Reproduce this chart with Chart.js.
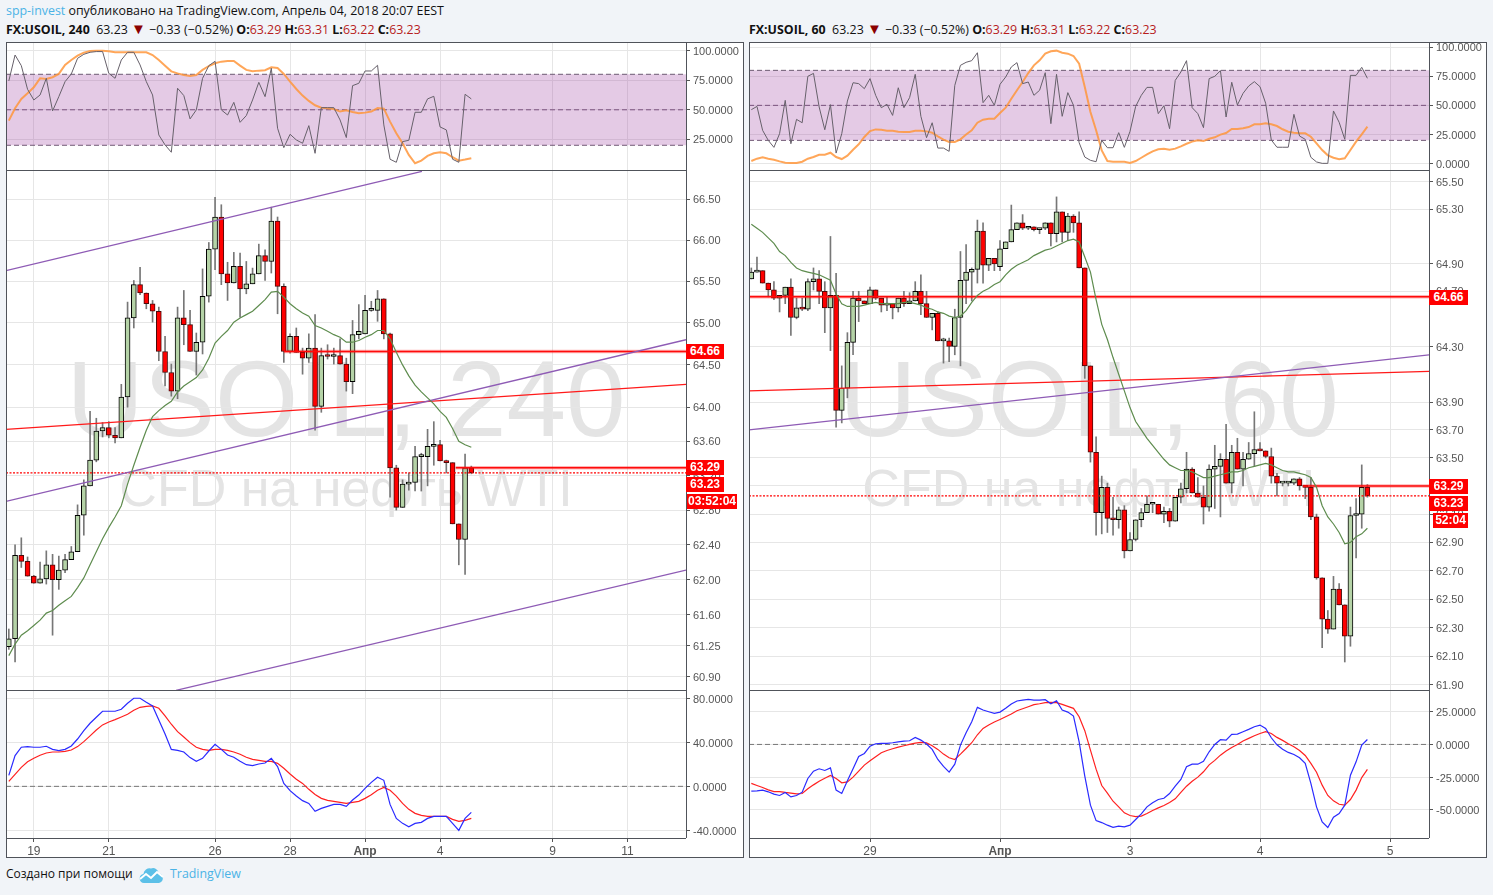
<!DOCTYPE html>
<html>
<head>
<meta charset="utf-8">
<script src="https://cdn.jsdelivr.net/npm/chart.js@4"></script>
<style>
html, body { margin: 0; padding: 0; background: #f1f4f8; width: 1493px; height: 895px; overflow: hidden; }
body { position: relative; font-family: "Open Sans", sans-serif; color: #111; }
.box { position: absolute; background: #fff; }
.frame { position: absolute; background: #50535a; }
canvas { position: absolute; }
.mark { position: absolute; font-family: "Liberation Sans", sans-serif; color: #e4e4e4; white-space: nowrap; text-align: center; }
.big { font-size: 107px; line-height: 107px; }
.small { font-size: 52px; line-height: 52px; }
.flag { position: absolute; background: #ff0000; color: #fff; font: bold 12px/15px "Liberation Sans", sans-serif; height: 15px; text-align: center; }
.line { position: absolute; font-size: 12.4px; line-height: 18px; white-space: nowrap; }
.line b { font-weight: 700; }
.down { color: #b71c1c; }
.blue { color: #4bb3e6; }
.tri { color: #8b0000; font-size: 15px; line-height: 0; }
</style>
</head>
<body>
<div class="line" style="left:6px;top:2px"><span class="blue">spp-invest</span> опубликовано на TradingView.com, Апрель 04, 2018 20:07 EEST</div>
<div class="line" style="left:6px;top:21px"><b>FX:USOIL, 240</b>&nbsp; 63.23 <span class="tri">▼</span> −0.33 (−0.52%) <b>O:</b><span class="down">63.29</span> <b>H:</b><span class="down">63.31</span> <b>L:</b><span class="down">63.22</span> <b>C:</b><span class="down">63.23</span></div>
<div class="line" style="left:749px;top:21px"><b>FX:USOIL, 60</b>&nbsp; 63.23 <span class="tri">▼</span> −0.33 (−0.52%) <b>O:</b><span class="down">63.29</span> <b>H:</b><span class="down">63.31</span> <b>L:</b><span class="down">63.22</span> <b>C:</b><span class="down">63.23</span></div>

<div class="box" style="left:6px;top:42px;width:738px;height:816px"></div>
<div class="box" style="left:749px;top:42px;width:738px;height:816px"></div>

<div class="mark big" style="left:6px;top:346px;width:680px">USOIL, 240</div>
<div class="mark small" style="left:6px;top:462px;width:680px">CFD на нефть WTI</div>
<div class="mark big" style="left:749px;top:346px;width:680px">USOIL, 60</div>
<div class="mark small" style="left:749px;top:462px;width:680px">CFD на нефть WTI</div>

<canvas id="lRsiPane" width="738" height="128" style="left:6px;top:42px"></canvas>
<canvas id="lMain" width="738" height="520" style="left:6px;top:170px"></canvas>
<canvas id="lStoch" width="738" height="168" style="left:6px;top:690px"></canvas>
<canvas id="rRsiPane" width="738" height="128" style="left:749px;top:42px"></canvas>
<canvas id="rMain" width="738" height="520" style="left:749px;top:170px"></canvas>
<canvas id="rStoch" width="738" height="168" style="left:749px;top:690px"></canvas>

<div class="frame" style="left:6px;top:42px;width:738px;height:1px"></div>
<div class="frame" style="left:6px;top:170px;width:680px;height:1px"></div>
<div class="frame" style="left:6px;top:690px;width:680px;height:1px"></div>
<div class="frame" style="left:6px;top:838px;width:680px;height:1px"></div>
<div class="frame" style="left:6px;top:857px;width:738px;height:1px"></div>
<div class="frame" style="left:6px;top:42px;width:1px;height:816px"></div>
<div class="frame" style="left:686px;top:42px;width:1px;height:796px"></div>
<div class="frame" style="left:743px;top:42px;width:1px;height:816px"></div>
<div class="frame" style="left:749px;top:42px;width:738px;height:1px"></div>
<div class="frame" style="left:749px;top:170px;width:680px;height:1px"></div>
<div class="frame" style="left:749px;top:690px;width:680px;height:1px"></div>
<div class="frame" style="left:749px;top:838px;width:680px;height:1px"></div>
<div class="frame" style="left:749px;top:857px;width:738px;height:1px"></div>
<div class="frame" style="left:749px;top:42px;width:1px;height:816px"></div>
<div class="frame" style="left:1429px;top:42px;width:1px;height:796px"></div>
<div class="frame" style="left:1486px;top:42px;width:1px;height:816px"></div>

<div class="flag" style="left:686px;top:344px;width:38px">64.66</div>
<div class="flag" style="left:686px;top:460px;width:38px">63.29</div>
<div class="flag" style="left:686px;top:477px;width:38px">63.23</div>
<div class="flag" style="left:687px;top:494px;width:50px">03:52:04</div>
<div class="flag" style="left:1429px;top:290px;width:39px">64.66</div>
<div class="flag" style="left:1429px;top:479px;width:39px">63.29</div>
<div class="flag" style="left:1429px;top:496px;width:39px">63.23</div>
<div class="flag" style="left:1433px;top:513px;width:35px">52:04</div>

<div class="line" style="left:6px;top:865px;font-size:12px">Создано при помощи</div>
<svg style="position:absolute;left:139px;top:866px" width="25" height="18" viewBox="0 0 25 18">
<path d="M5 17a4.6 4.6 0 0 1-.6-9.1A6.3 6.3 0 0 1 12 2.4a5.6 5.6 0 0 1 7.6 4.8A5 5 0 0 1 20 17z" fill="#5cc0e8"/>
<path d="M1 13l6-5 5 4 6-6 6 5" fill="none" stroke="#fff" stroke-width="2"/>
</svg>
<div class="line blue" style="left:170px;top:865px">TradingView</div>

<script>
// 240 minute candles
const lOpen = [61.24,61.33,62.28,62.21,62.04,61.96,62.01,62.17,62.00,62.11,62.23,62.32,62.74,63.08,63.38,63.72,63.76,63.67,63.64,64.12,65.06,65.46,65.36,65.23,65.14,64.66,64.41,64.19,65.06,64.98,64.66,64.77,65.32,65.89,66.28,65.59,65.48,65.68,65.41,65.47,65.59,65.81,65.74,66.23,65.44,64.66,64.84,64.65,64.58,64.70,64.01,64.61,64.60,64.61,64.51,64.30,64.86,64.87,65.15,65.15,65.29,64.87,63.29,62.83,63.10,63.12,63.42,63.42,63.54,63.56,63.37,63.35,62.64,62.46,63.29]
const lHigh = [61.44,62.40,62.48,62.26,62.05,62.20,62.33,62.29,62.27,62.29,62.38,62.86,63.15,63.95,63.87,63.82,63.83,63.76,64.27,65.25,65.51,65.67,65.36,65.27,65.19,64.84,64.51,65.19,65.39,65.15,64.88,65.65,65.97,66.52,66.43,65.73,65.85,65.84,65.74,65.66,65.95,65.88,66.40,66.28,65.47,64.87,64.94,64.70,64.87,65.10,64.70,64.74,64.70,64.81,64.58,65.03,65.22,65.33,65.26,65.39,65.29,64.88,63.32,63.15,63.23,63.54,63.46,63.74,63.83,63.61,63.38,63.35,62.64,63.45,63.31]
const lLow = [61.21,61.07,62.14,62.04,61.96,61.96,61.95,61.37,61.89,62.08,62.23,62.32,62.51,63.08,63.36,63.65,63.64,63.58,63.64,64.00,64.94,65.34,65.17,65.01,64.55,64.25,64.13,64.10,64.74,64.66,64.38,64.63,65.25,65.64,65.46,65.27,65.48,65.07,65.35,65.47,65.59,65.51,65.60,65.11,64.53,64.64,64.65,64.39,64.53,63.73,63.94,64.57,64.51,64.51,64.19,64.16,64.81,64.87,65.14,65.02,64.81,62.95,62.80,62.83,63.03,63.02,63.02,63.08,63.32,63.37,63.23,62.64,62.17,62.06,63.22]
const lClose = [61.33,62.28,62.21,62.04,61.96,62.01,62.17,62.00,62.11,62.23,62.32,62.74,63.08,63.38,63.72,63.76,63.67,63.64,64.12,65.06,65.46,65.36,65.23,65.14,64.66,64.41,64.19,65.06,64.98,64.66,64.77,65.32,65.89,66.28,65.59,65.48,65.68,65.41,65.47,65.59,65.81,65.74,66.23,65.44,64.66,64.84,64.65,64.58,64.70,64.01,64.61,64.60,64.61,64.51,64.30,64.86,64.90,65.15,65.15,65.29,64.87,63.29,62.83,63.10,63.12,63.42,63.42,63.54,63.56,63.37,63.35,62.64,62.46,63.29,63.23]
const lMa = [61.14,61.27,61.37,61.42,61.48,61.54,61.62,61.65,61.71,61.76,61.81,61.91,62.02,62.17,62.32,62.47,62.60,62.72,62.85,63.10,63.32,63.53,63.73,63.89,63.96,64.02,64.07,64.18,64.25,64.30,64.35,64.44,64.58,64.76,64.84,64.91,65.01,65.06,65.10,65.14,65.21,65.28,65.37,65.38,65.31,65.23,65.17,65.12,65.08,64.97,64.94,64.90,64.86,64.83,64.77,64.77,64.79,64.83,64.86,64.91,64.91,64.81,64.65,64.50,64.37,64.26,64.18,64.11,64.04,63.95,63.88,63.75,63.60,63.56,63.53]
const lRsi = [74.4,96.3,87.3,67.3,58.3,62.5,76.6,49.0,61.1,73.8,80.3,93.5,96.9,98.6,99.2,99.2,80.8,76.6,92.1,98.6,98.6,87.9,73.8,62.5,28.7,20.3,14.1,68.2,62.0,42.3,49.9,76.6,87.3,91.0,49.9,45.6,56.3,39.4,45.1,58.3,73.2,61.1,85.1,34.4,18.0,29.3,24.5,21.7,36.6,13.2,51.8,51.8,51.8,41.4,26.5,70.4,72.4,82.8,82.8,87.6,37.2,8.2,5.6,23.1,24.2,47.9,47.9,59.2,61.4,35.5,33.0,8.2,5.6,63.1,59.2]
const lRsiMa = [40.8,51.3,59.2,63.9,69.0,76.6,76.1,77.5,80.3,87.9,92.1,95.8,98.3,99.7,100,100,99.4,98.6,98.6,98.6,98.6,98.6,98.6,96.3,92.1,87.3,82.5,80.8,79.4,78.6,79.4,83.7,87.0,89.3,90.7,91.3,91.3,87.3,83.7,82.5,83.1,83.4,85.9,85.4,80.3,73.8,67.6,62.0,57.5,53.8,51.8,51.3,50.7,48.5,49.6,48.2,47.0,47.6,48.5,51.5,51.0,40.0,30.1,21.7,11.8,4.8,7.0,11.0,13.2,14.1,13.2,9.9,7.0,7.9,9.0]
const lFast = [10.0,27.9,35.5,36.1,35.5,35.5,36.4,33.6,32.4,33.6,36.7,43.0,50.6,57.3,62.7,68.2,68.2,68.2,70.0,75.5,80,80,76.4,73.0,60.3,47.6,33.6,32.7,31.2,26.1,22.7,25.5,32.1,38.2,33.6,28.5,26.4,22.7,19.7,18.8,20.3,21.2,25.5,17.9,2.7,-3.9,-8.8,-13.0,-15.5,-22.7,-20.0,-18.2,-16.4,-16.4,-18.2,-12.4,-7.9,-1.8,3.6,8.2,5.5,-16.4,-29.1,-33.6,-36.7,-33.6,-32.7,-29.1,-27.3,-27.3,-27.3,-33.6,-40.0,-29.1,-23.6]
const lSlow = [4.5,10.9,17.3,22.4,25.5,28.2,30.3,31.2,31.2,31.8,33.0,36.1,40.6,45.8,51.2,55.8,58.5,60.6,63.0,65.5,69.1,71.8,72.7,73.0,70.9,63.9,56.4,49.7,44.8,39.7,35.5,33.6,32.7,33.6,33.6,32.7,31.2,29.1,26.4,24.5,23.6,22.7,22.7,20.9,16.4,11.2,6.4,2.7,-2.7,-7.3,-10.9,-12.7,-13.6,-14.5,-15.5,-14.5,-13.6,-10.9,-7.6,-3.6,-0.9,-3.6,-8.8,-15.5,-20.9,-24.5,-26.4,-27.3,-27.3,-27.3,-27.3,-30.0,-31.8,-30.9,-29.1]

// 60 minute candles
const rOpen = [64.79,64.84,64.85,64.76,64.71,64.65,64.67,64.73,64.51,64.58,64.57,64.77,64.79,64.70,64.58,64.67,63.84,64.00,64.33,64.65,64.63,64.61,64.71,64.65,64.60,64.61,64.58,64.65,64.61,64.63,64.70,64.61,64.51,64.54,64.34,64.34,64.30,64.51,64.78,64.84,64.86,65.14,64.89,64.94,64.88,65.01,65.06,65.15,65.20,65.16,65.17,65.15,65.16,65.20,65.12,65.28,65.13,65.25,65.20,64.87,64.16,63.54,63.11,63.29,63.07,63.06,63.13,62.84,62.92,63.06,63.11,63.17,63.17,63.10,63.12,63.05,63.22,63.28,63.42,63.25,63.22,63.15,63.42,63.44,63.49,63.32,63.54,63.42,63.49,63.53,63.56,63.55,63.51,63.37,63.32,63.32,63.32,63.35,63.30,63.29,63.08,62.65,62.36,62.29,62.57,62.46,62.24,63.09,63.10,63.29]
const rHigh = [64.87,64.95,64.85,64.76,64.77,64.67,64.73,64.79,64.65,64.65,64.79,64.87,64.85,64.77,65.10,64.83,64.16,64.40,64.70,64.70,64.63,64.73,64.71,64.65,64.66,64.61,64.65,64.70,64.69,64.77,64.82,64.70,64.54,64.55,64.36,64.36,64.57,64.99,65.04,64.87,65.22,65.20,64.94,64.94,65.07,65.06,65.33,65.20,65.26,65.17,65.17,65.16,65.20,65.20,65.39,65.28,65.27,65.26,65.28,64.87,64.16,63.65,63.37,63.32,63.22,63.15,63.16,62.97,63.06,63.14,63.23,63.17,63.17,63.15,63.14,63.22,63.32,63.54,63.43,63.36,63.30,63.45,63.59,63.53,63.74,63.59,63.64,63.54,63.61,63.83,63.61,63.55,63.57,63.39,63.32,63.33,63.35,63.36,63.30,63.36,63.10,62.65,62.42,62.66,62.61,62.46,63.15,63.21,63.45,63.31]
const rLow = [64.79,64.84,64.76,64.66,64.64,64.55,64.61,64.38,64.50,64.56,64.56,64.71,64.61,64.40,64.27,63.72,63.75,63.93,64.24,64.48,64.61,64.61,64.64,64.55,64.56,64.50,64.55,64.59,64.61,64.63,64.53,64.51,64.42,64.34,64.18,64.19,64.24,64.16,64.61,64.63,64.76,64.76,64.85,64.85,64.85,65.01,65.06,65.15,65.15,65.15,65.14,65.12,65.15,65.03,65.06,65.06,65.07,65.13,64.87,64.07,63.47,62.95,62.96,62.97,62.95,63.00,62.79,62.84,62.91,63.01,63.11,63.11,63.10,63.04,63.01,63.05,63.18,63.25,63.25,63.22,63.03,63.12,63.14,63.08,63.32,63.25,63.42,63.30,63.49,63.44,63.55,63.50,63.32,63.23,63.30,63.30,63.31,63.27,63.21,63.06,62.64,62.16,62.26,62.29,62.46,62.06,62.17,62.79,63.00,63.22]
const rClose = [64.84,64.85,64.76,64.71,64.65,64.67,64.73,64.51,64.58,64.57,64.77,64.79,64.70,64.58,64.67,63.84,64.00,64.33,64.65,64.63,64.61,64.71,64.65,64.60,64.61,64.58,64.65,64.61,64.63,64.70,64.61,64.51,64.54,64.34,64.35,64.30,64.51,64.78,64.84,64.86,65.14,64.89,64.94,64.90,65.01,65.06,65.15,65.20,65.16,65.17,65.15,65.16,65.20,65.12,65.28,65.13,65.25,65.20,64.87,64.16,63.54,63.11,63.29,63.07,63.06,63.13,62.84,62.92,63.06,63.11,63.17,63.17,63.10,63.12,63.05,63.22,63.28,63.42,63.25,63.22,63.15,63.42,63.44,63.49,63.32,63.54,63.42,63.49,63.53,63.56,63.55,63.51,63.37,63.32,63.32,63.32,63.35,63.30,63.29,63.08,62.65,62.36,62.29,62.57,62.46,62.24,63.09,63.10,63.29,63.23]
const rMa = [65.19,65.16,65.13,65.09,65.05,64.99,64.96,64.91,64.87,64.85,64.84,64.83,64.82,64.80,64.78,64.68,64.61,64.59,64.59,64.59,64.60,64.61,64.62,64.61,64.61,64.61,64.61,64.62,64.62,64.61,64.60,64.58,64.57,64.55,64.54,64.52,64.51,64.52,64.56,64.62,64.67,64.70,64.72,64.75,64.77,64.82,64.86,64.89,64.91,64.93,64.96,64.98,65.00,65.01,65.03,65.05,65.07,65.08,65.06,64.95,64.84,64.64,64.46,64.35,64.22,64.10,63.98,63.86,63.76,63.70,63.64,63.59,63.54,63.49,63.45,63.43,63.41,63.41,63.40,63.38,63.36,63.36,63.37,63.38,63.39,63.40,63.40,63.41,63.43,63.44,63.45,63.46,63.45,63.43,63.41,63.40,63.40,63.39,63.38,63.36,63.29,63.16,63.08,63.03,62.97,62.89,62.90,62.94,62.96,63.00]
const rRsi = [46.3,49.1,28.6,20,14,25.7,54.3,17.1,38,35.1,74.9,77.4,48.6,29.1,50.6,9.1,25.7,53.7,69.4,68.6,64.3,72.9,58.6,48,50.9,41.4,65.1,48,56.6,76.6,40.6,22.3,35.1,13.4,13.4,10.6,67.1,84.3,86.9,88.3,95.1,52.3,58.6,50,68,74.3,82.9,86.6,68.6,70,58.6,62.9,78,34.3,76.6,40.6,60.9,50,18,5.7,2.9,1.7,20,13.7,13.7,26.6,14,27.7,49.1,58.6,65.4,65.4,42.9,49.7,30,71.4,78.6,88.3,48,42.9,30.9,72.9,74.9,79.7,40,69.8,50.3,60.3,66.6,70.3,66.0,51.8,20.3,14.1,14.1,14.1,42.3,23.7,20.9,5.5,1.5,0.3,0.3,45.2,35.5,20.9,75.7,75.7,82.6,73.2]
const rRsiMa = [2.3,4.3,5.4,4.3,3.4,2,0.9,0.6,0.6,1.7,4.3,5.7,7.7,7.7,9.4,5.7,4,6.9,12,16.6,22.9,28,29.4,29.1,28.3,28.3,27.4,27.1,27.1,28.3,28.3,27.7,26.6,23.4,20.6,18.6,18.6,20.9,25.1,28.6,35.1,37.7,38.6,38.6,43.4,48,55.7,62.9,70,77.7,84.3,88.6,94.3,96.3,96.9,95.1,94.3,92.3,85.7,65.7,44.3,28.6,11.4,2.3,1.7,1.7,1.7,0.6,2.3,5.1,8,10.6,12.3,12.9,12,12.9,14.9,17.1,18.9,20,19.4,21.4,22.6,24.9,26.3,29.7,29.7,30.3,31.4,33.8,33.8,34.6,33.8,32.3,29.5,27.4,26.6,26,26,23.1,17.5,11.7,7.2,5.1,3.8,4.6,11.7,18.9,25.2,31.7]
const rFast = [-35.7,-35.5,-34.9,-36.2,-38.0,-39.0,-36.7,-40.1,-39.0,-36.5,-26.0,-20.4,-18.6,-19.9,-17.9,-34.9,-37.5,-27.8,-18.6,-9.2,-6.9,-1.3,0.5,0.8,0.8,1.3,2.0,2.6,2.8,5.4,3.3,0.3,-3.8,-11.5,-16.8,-21.2,-15.1,-0.5,8.9,17.3,28.3,26.3,25.0,23.7,24.7,27.6,30.9,33.2,33.9,34.4,33.9,33.9,34.2,31.1,33.4,26.3,24.7,21.7,2.0,-24.2,-46.4,-58.2,-59.7,-61.7,-63.3,-62.5,-63.0,-61.7,-57.4,-53.1,-47.7,-44.6,-42.1,-41.1,-37.5,-31.9,-26.8,-17.1,-15.1,-15.1,-12.8,-5.6,0,3.6,3.3,7.7,7.9,9.7,11.5,13.5,14.8,12.2,5.1,-0.3,-3.6,-6.1,-7.7,-10.2,-14.5,-29.8,-47.7,-59.2,-63.5,-55.6,-52.8,-46.4,-23.5,-13.3,-0.5,3.8]
const rSlow = [-29.8,-31.4,-32.9,-34.7,-36.0,-36.0,-36.7,-37.2,-37.8,-37.5,-33.9,-30.9,-28.1,-25.8,-23.7,-26.0,-29.3,-28.6,-25.0,-20.4,-15.8,-12.5,-9.4,-6.4,-4.6,-3.3,-2.0,-1.0,0,1.0,1.5,1.3,-1.0,-3.8,-7.4,-10.2,-11.5,-7.4,-3.1,1.3,7.4,12.2,14.8,17.1,19.1,21.2,23.2,25.8,27.3,28.8,30.4,31.1,31.9,32.1,31.9,30.6,29.1,27.6,21.2,10.5,-4.3,-18.9,-31.4,-37.2,-43.4,-47.7,-52.3,-54.3,-55.1,-54.8,-52.8,-50.5,-48.5,-46.7,-44.4,-41.6,-36.7,-31.9,-28.1,-25.0,-20.9,-15.6,-12.2,-8.2,-5.1,-2.3,0,2.6,4.6,6.6,8.4,9.7,8.4,5.4,3.1,0.5,-1.8,-4.6,-8.4,-14.5,-21.2,-31.1,-39.0,-43.1,-45.7,-46.4,-42.1,-34.9,-25.3,-19.1]

// axis ticks
const lPriceTicks = [66.5,66,65.5,65,64.5,64,63.6,63.2,62.8,62.4,62,61.6,61.25,60.9]
const rPriceTicks = [65.5,65.3,64.9,64.7,64.3,63.9,63.7,63.5,63.3,63.1,62.9,62.7,62.5,62.3,62.1,61.9]
const lRsiTicks = [100,75,50,25]
const rRsiTicks = [100,75,50,25,0]
const lStochTicks = [80,40,0,-40]
const rStochTicks = [25,0,-25,-50]
const lDayIndex = [4,16,33,45,57,69,87,99]
const lDayLabels = ['19','21','26','28','Апр','4','9','11']
const rDayIndex = [21,44,67,90,113]
const rDayLabels = ['29','Апр','3','4','5']

// drawn lines, [start, end] in candle number and price
const lUpperX = [-0.45,66.1], lUpperY = [65.63,66.84]
const lMidX = [-0.45,108.35], lMidY = [62.90,64.80]
const lLowerX = [26.75,108.35], lLowerY = [60.75,62.11]
const lRedX = [-0.45,108.35], lRedY = [63.74,64.27]
const lLevelAX = [44,108.35], lLevelAY = [64.66,64.66]
const lLevelBX = [71.5,108.35], lLevelBY = [63.29,63.29]
const lLastX = [-0.45,108.35], lLastY = [63.23,63.23]
const rPurpleX = [-0.41,119.9], rPurpleY = [63.70,64.24]
const rRedX = [-0.41,119.9], rRedY = [63.98,64.12]
const rLevelAX = [-0.41,119.9], rLevelAY = [64.66,64.66]
const rLevelBX = [97.6,119.9], rLevelBY = [63.30,63.30]
const rLastX = [-0.41,119.9], rLastY = [63.23,63.23]
const bandHigh = 80, bandMid = 50, bandLow = 20

const GRID = '#e6e6e6'
const TICK = '#555'
const AXIS_W = 58

const series = (vals, color, width) => ({
    type: 'line',
    data: vals.map((v, i) => ({ x: i, y: v })),
    borderColor: color,
    borderWidth: width,
    pointRadius: 0,
    tension: 0,
    fill: false,
    order: 0
})

const segment = (xs, ys, color, width, dash) => ({
    type: 'line',
    data: xs.map((x, i) => ({ x: x, y: ys[i] })),
    borderColor: color,
    borderWidth: width,
    borderDash: dash || [],
    pointRadius: 0,
    tension: 0,
    fill: false,
    order: 1
})

// level line with the soft edge it has in the picture
const level = (xs, ys) => [
    segment(xs, ys, 'rgba(255,0,0,0.3)', 3.6),
    segment(xs, ys, '#ff1010', 1.6)
]

const candles = (o, h, l, c) => [
    {
        type: 'bar',
        data: o.map((_, i) => ({ x: i, y: [l[i], h[i]] })),
        backgroundColor: '#777',
        barThickness: 1,
        grouped: false,
        order: 4
    },
    {
        type: 'bar',
        data: o.map((v, i) => ({ x: i, y: [v, c[i]] })),
        backgroundColor: o.map((v, i) => c[i] < v ? '#ff0000' : '#b5d3a7'),
        borderColor: o.map((v, i) => c[i] < v ? '#4a0a0a' : '#000'),
        borderWidth: 1,
        borderSkipped: false,
        barThickness: 5,
        minBarLength: 2,
        grouped: false,
        order: 3
    }
]

const band = (xr) => [
    Object.assign(segment(xr, [bandHigh, bandHigh], '#6d5b72', 1, [5, 3]), { fill: { target: 1 }, backgroundColor: 'rgba(155,60,160,0.27)' }),
    segment(xr, [bandLow, bandLow], '#6d5b72', 1, [5, 3]),
    segment(xr, [bandMid, bandMid], '#6d5b72', 1, [5, 3])
]

const makePane = (id, o) => new Chart(document.getElementById(id), {
    type: 'line',
    data: { datasets: o.datasets },
    options: {
        responsive: false,
        animation: false,
        events: [],
        layout: { padding: 0 },
        plugins: { legend: { display: false }, tooltip: { enabled: false } },
        scales: {
            x: {
                type: 'linear',
                min: o.xMin,
                max: o.xMax,
                offset: false,
                border: { display: false },
                grid: { color: GRID, offset: false, drawTicks: !!o.days, tickLength: 4, tickColor: TICK },
                ticks: {
                    display: !!o.days,
                    autoSkip: false,
                    maxRotation: 0,
                    padding: 2,
                    color: '#555',
                    font: c => ({ family: 'Liberation Sans', size: 12, weight: c.tick && c.tick.label === 'Апр' ? 'bold' : 'normal' }),
                    callback: v => o.days ? o.days[o.dayIndex.indexOf(v)] : ''
                },
                afterBuildTicks: s => { s.ticks = o.dayIndex.map(v => ({ value: v })) },
                afterFit: s => { s.height = o.days ? 20 : 0; s.paddingLeft = 0; s.paddingRight = 0 }
            },
            y: {
                type: o.log ? 'logarithmic' : 'linear',
                position: 'right',
                min: o.yMin,
                max: o.yMax,
                border: { display: false },
                grid: { color: GRID, drawTicks: true, tickLength: 4, tickColor: TICK },
                ticks: {
                    autoSkip: false,
                    padding: 3,
                    labelOffset: o.days ? 1.6 : 1,
                    color: '#555',
                    font: { family: 'Liberation Sans', size: 11 },
                    callback: v => v.toFixed(o.log ? 2 : 4)
                },
                afterBuildTicks: s => { s.ticks = o.yTicks.map(v => ({ value: v })) },
                afterFit: s => { s.width = AXIS_W; s.paddingTop = 0; s.paddingBottom = 0 }
            }
        }
    }
})

const lX = [-0.45, 108.35]
const rX = [-0.41, 119.9]

makePane('lRsiPane', {
    xMin: lX[0], xMax: lX[1], yMin: -0.9, yMax: 107.3, yTicks: lRsiTicks, dayIndex: lDayIndex,
    datasets: [...band(lX), series(lRsi, '#66606a', 1), series(lRsiMa, 'rgba(255,150,60,0.85)', 2)]
})
makePane('rRsiPane', {
    xMin: rX[0], xMax: rX[1], yMin: -5.4, yMax: 104.3, yTicks: rRsiTicks, dayIndex: rDayIndex,
    datasets: [...band(rX), series(rRsi, '#66606a', 1), series(rRsiMa, 'rgba(255,150,60,0.85)', 2)]
})
makePane('lMain', {
    log: true, xMin: lX[0], xMax: lX[1], yMin: 60.754, yMax: 66.856, yTicks: lPriceTicks, dayIndex: lDayIndex,
    datasets: [
        series(lMa, '#5e8c4e', 1.2),
        segment(lUpperX, lUpperY, '#8e5bb5', 1.3),
        segment(lMidX, lMidY, '#8e5bb5', 1.3),
        segment(lLowerX, lLowerY, '#8e5bb5', 1.3),
        segment(lRedX, lRedY, '#ff1a1a', 1.2),
        ...level(lLevelAX, lLevelAY),
        ...level(lLevelBX, lLevelBY),
        segment(lLastX, lLastY, '#ff0000', 1.2, [2, 1.5]),
        ...candles(lOpen, lHigh, lLow, lClose)
    ]
})
makePane('rMain', {
    log: true, xMin: rX[0], xMax: rX[1], yMin: 61.865, yMax: 65.588, yTicks: rPriceTicks, dayIndex: rDayIndex,
    datasets: [
        series(rMa, '#5e8c4e', 1.2),
        segment(rPurpleX, rPurpleY, '#8e5bb5', 1.3),
        segment(rRedX, rRedY, '#ff1a1a', 1.2),
        ...level(rLevelAX, rLevelAY),
        ...level(rLevelBX, rLevelBY),
        segment(rLastX, rLastY, '#ff0000', 1.2, [2, 1.5]),
        ...candles(rOpen, rHigh, rLow, rClose)
    ]
})
makePane('lStoch', {
    xMin: lX[0], xMax: lX[1], yMin: -46.9, yMax: 87.5, yTicks: lStochTicks, dayIndex: lDayIndex, days: lDayLabels,
    datasets: [segment(lX, [0, 0], '#777', 1, [5, 3]), series(lFast, '#2a2aff', 1.2), series(lSlow, '#ff2020', 1.2)]
})
makePane('rStoch', {
    xMin: rX[0], xMax: rX[1], yMin: -71.5, yMax: 41.6, yTicks: rStochTicks, dayIndex: rDayIndex, days: rDayLabels,
    datasets: [segment(rX, [0, 0], '#777', 1, [5, 3]), series(rFast, '#2a2aff', 1.2), series(rSlow, '#ff2020', 1.2)]
})
</script>
</body>
</html>
